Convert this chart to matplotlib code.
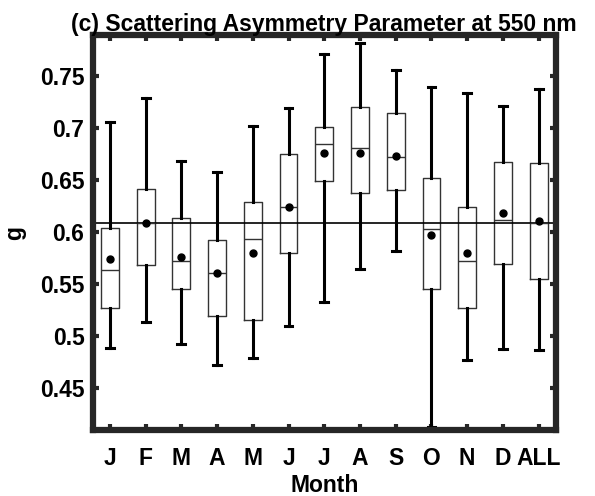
import matplotlib.pyplot as plt
import numpy as np

plt.rcParams['font.family'] = ['Liberation Sans', 'DejaVu Sans']
plt.rcParams['font.weight'] = 'bold'

# 月份标签
months = ['J', 'F', 'M', 'A', 'M', 'J', 'J', 'A', 'S', 'O', 'N', 'D', 'ALL']

# 箱线图统计量
whis_hi = [0.706, 0.729, 0.668, 0.658, 0.702, 0.719, 0.771, 0.782, 0.756, 0.739, 0.734, 0.721, 0.737]
q3 = [0.604, 0.641, 0.614, 0.592, 0.629, 0.675, 0.701, 0.720, 0.714, 0.652, 0.624, 0.667, 0.666]
med = [0.564, 0.609, 0.572, 0.561, 0.593, 0.624, 0.685, 0.681, 0.672, 0.603, 0.572, 0.612, 0.609]
q1 = [0.527, 0.568, 0.545, 0.519, 0.516, 0.580, 0.649, 0.638, 0.640, 0.545, 0.527, 0.569, 0.555]
whis_lo = [0.489, 0.514, 0.493, 0.472, 0.479, 0.510, 0.533, 0.565, 0.582, 0.413, 0.477, 0.488, 0.487]
mean = [0.574, 0.609, 0.576, 0.561, 0.580, 0.624, 0.676, 0.676, 0.673, 0.597, 0.580, 0.618, 0.611]
overall_mean = 0.609

stats = []
for i in range(len(months)):
    stats.append({'whislo': whis_lo[i], 'q1': q1[i], 'med': med[i], 'q3': q3[i],
                  'whishi': whis_hi[i], 'mean': mean[i], 'fliers': []})

fig = plt.figure(figsize=(5.95, 4.96), dpi=100)
ax = fig.add_axes([0.156, 0.133, 0.778, 0.796])

pos = np.arange(1, len(months) + 1)
ax.bxp(stats, positions=pos, widths=0.5, capwidths=0.22, showmeans=True, showfliers=False,
       boxprops=dict(color='#333333', linewidth=1.0),
       medianprops=dict(color='#333333', linewidth=1.0),
       whiskerprops=dict(color='black', linewidth=2.2),
       capprops=dict(color='black', linewidth=2.2),
       meanprops=dict(marker='o', markerfacecolor='black', markeredgecolor='black', markersize=5))

# 全年平均值参考线
ax.axhline(overall_mean, color='black', linewidth=1.2)

ax.set_xlim(0.52, 13.48)
ax.set_ylim(0.41, 0.789)
ax.set_xticks(pos)
ax.set_xticklabels(months)
ax.set_yticks([0.45, 0.5, 0.55, 0.6, 0.65, 0.7, 0.75])
ax.set_yticklabels(['0.45', '0.5', '0.55', '0.6', '0.65', '0.7', '0.75'])
ax.tick_params(direction='in', length=4, width=3, top=True, right=True, labelsize=16.5, color='#262626')
ax.tick_params(axis='x', pad=12)
ax.tick_params(axis='y', pad=6)
for s in ax.spines.values():
    s.set_linewidth(4.5)
    s.set_color('#262626')

ax.set_xlabel('Month', fontsize=16.5, fontweight='bold', labelpad=3)
ax.set_ylabel('g', fontsize=16.5, fontweight='bold', labelpad=10)
ax.set_title('(c) Scattering Asymmetry Parameter at 550 nm', fontsize=16.5, fontweight='bold', pad=3)

fig.savefig('out.png', dpi=100)
